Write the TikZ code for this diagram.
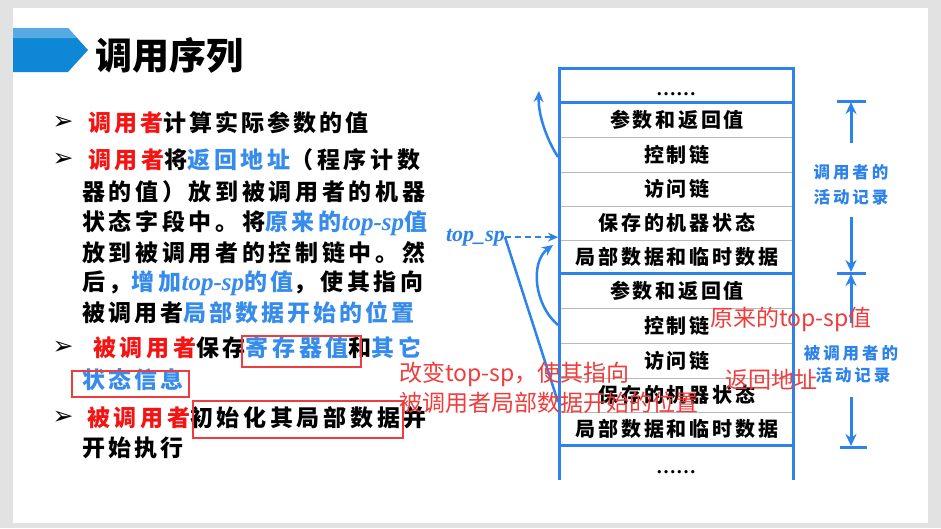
\documentclass[tikz,border=0pt]{standalone}
\usepackage{fontspec}
\usetikzlibrary{arrows.meta}
\newfontfamily\bodyfont{Noto Sans CJK SC}[LetterSpace=13]
\newfontfamily\bodywfont{Noto Sans CJK SC}[LetterSpace=16]
\newfontfamily\stkfont{Noto Sans CJK SC}[LetterSpace=14]
\newfontfamily\labfont{Noto Sans CJK SC}[LetterSpace=18]
\newfontfamily\annfont{Noto Sans CJK SC}
\newfontfamily\serfont{Liberation Serif}
\newfontfamily\symfont{DejaVu Sans}
\definecolor{tred}{RGB}{245,20,20}
\definecolor{tblue}{RGB}{55,140,235}
\definecolor{ared}{RGB}{240,60,60}
\definecolor{sblue}{RGB}{45,130,235}
\definecolor{rowgray}{RGB}{185,185,185}
\definecolor{bggray}{RGB}{226,226,226}
\definecolor{banlight}{RGB}{88,170,228}
\definecolor{bandark}{RGB}{14,136,214}
\newcommand\Rd[1]{\textcolor{tred}{#1}}
\newcommand\Bl[1]{\textcolor{tblue}{#1}}
\newcommand\topsp{{\serfont\bfseries\itshape\fontsize{25}{25}\selectfont top-sp}}
\tikzset{
  bt/.style={inner sep=0, anchor=base west, font=\bodyfont\bfseries\fontsize{23}{23}\selectfont},
  btw/.style={inner sep=0, anchor=base west, font=\bodywfont\bfseries\fontsize{23}{23}\selectfont},
  st/.style={inner sep=0, anchor=base, font=\stkfont\bfseries\fontsize{20}{20}\selectfont},
  dots/.style={inner sep=0, anchor=base, font=\serfont\bfseries\fontsize{20}{20}\selectfont},
  lab/.style={inner sep=0, anchor=base, text=sblue, font=\labfont\bfseries\fontsize{16.5}{16.5}\selectfont},
  ann/.style={inner sep=0, anchor=base west, text=ared, font=\annfont\fontsize{23}{23}\selectfont},
  bul/.style={inner sep=0, font=\symfont\bfseries\fontsize{25}{25}\selectfont},
  sline/.style={sblue, line width=3pt},
  rowline/.style={rowgray, line width=1pt},
  arr/.style={sblue, line width=2.5pt, -{Stealth[length=11pt,width=10pt]}},
  darr/.style={sblue, line width=2.5pt, dash pattern=on 6pt off 4pt, -{Stealth[length=10pt,width=9pt]}},
  meas/.style={sblue, line width=3pt, -{Stealth[length=12pt,width=11pt]}},
  rbox/.style={ared, line width=1.8pt}
}
\begin{document}
\begin{tikzpicture}[x=1pt,y=-1pt]
\useasboundingbox (0,0) rectangle (941,528);
\fill[bggray] (0,0) rectangle (941,528);
\fill[white] (13,8) rectangle (928,523);
% title banner
\fill[bandark] (13,28) -- (68,28) -- (88,50) -- (68,72) -- (13,72) -- cycle;
\fill[banlight] (13,28) -- (68,28) -- (77,38) -- (13,38) -- cycle;
\node[inner sep=0, anchor=base west, font=\annfont\bfseries\fontsize{37}{37}\selectfont] (title) at (95,69) {调用序列};

% bullets
\node[bul] (m1) at (63,123) {➢};
\node[bul] (m2) at (63,160) {➢};
\node[bul] (m3) at (63,348) {➢};
\node[bul] (m4) at (63,418) {➢};

\node[bt] (t1) at (88,131.7) {\Rd{调用者}计算实际参数的值};
\node[btw] (t2) at (88,168.7) {\Rd{调用者}将\Bl{返回地址}（程序计数};
\node[btw] (t3) at (82,200.7) {器的值）放到被调用者的机器};
\node[btw] (t4) at (82,230.7) {状态字段中。将\Bl{原来的\topsp 值}};
\node[btw] (t5) at (82,261.7) {放到被调用者的控制链中。然};
\node[btw] (t6) at (82,290.7) {后，\Bl{增加\topsp 的值}，使其指向};
\node[bt] (t7) at (82,321.7) {被调用者\Bl{局部数据开始的位置}};
\node[btw] (t8) at (93,356.7) {\Rd{被调用者}保存\Bl{寄存器值}和\Bl{其它}};
\node[bt] (t9) at (82,388.7) {\Bl{状态信息}};
\node[btw] (t10) at (87,426.7) {\Rd{被调用者}初始化其局部数据并};
\node[bt] (t11) at (82,456.7) {开始执行};

\draw[rbox] (242,336) rectangle (361,367);
\draw[rbox] (72,371) rectangle (189,397);
\draw[rbox] (193,401) rectangle (403,438);

% stack
\foreach \y in {137,172,206,240,308,343,378,412}
  \draw[rowline] (560.5,\y) -- (791.5,\y);
\draw[sline] (559,480) -- (559,68) -- (793,68) -- (793,480);
\draw[sline] (559,102) -- (793,102);
\draw[sline] (559,273) -- (793,273);
\draw[sline] (559,445) -- (793,445);

\node[dots] (r0) at (676,95) {……};
\node[st] (r1) at (677,127.1) {参数和返回值};
\node[st] (r2) at (677,162.1) {控制链};
\node[st] (r3) at (677,196.6) {访问链};
\node[st] (r4) at (677,230.6) {保存的机器状态};
\node[st] (r5) at (677,264.1) {局部数据和临时数据};
\node[st] (s1) at (677,298.1) {参数和返回值};
\node[st] (s2) at (677,333.1) {控制链};
\node[st] (s3) at (677,368.1) {访问链};
\node[st] (s4) at (677,402.6) {保存的机器状态};
\node[st] (s5) at (677,436.1) {局部数据和临时数据};
\node[dots] (s6) at (676,473) {……};

% left arrows
\coordinate (c1s) at (558,157);
\coordinate (c1e) at (539,91);
\draw[arr] (c1s) .. controls (547,140) and (538,115) .. (c1e);
\node[inner sep=0, anchor=base east, text=sblue, font=\serfont\bfseries\itshape\fontsize{22}{22}\selectfont] (tsp) at (505,241) {top\_sp};
\coordinate (pin) at (558,238);
\coordinate (dend) at (558,402);
\draw[darr] (tsp.east) -- (tsp.east -| pin);
\draw[sblue, line width=2.5pt] (tsp.east) -- (dend);
\coordinate (c2s) at (558,325);
\coordinate (c2e) at (553,245);
\draw[arr] (c2s) .. controls (534,305) and (530,262) .. (c2e);

% measure arrows
\draw[sline] (837,101) -- (866,101);
\draw[sline] (837,273) -- (866,273);
\draw[sline] (840,447) -- (867,447);
\node[lab] (cr1) at (851,178) {调用者的};
\node[lab] (cr2) at (851,203) {活动记录};
\node[lab] (ce1) at (851,359) {被调用者的};
\node[lab] (ce2) at (853,381) {活动记录};
\draw[meas] (851,143) -- (851,102);
\draw[meas] (851,217) -- (851,272);
\draw[meas] (851,323) -- (851,274);
\draw[meas] (851,397) -- (851,446);

% annotations
\node[ann] (a1) at (399,381.4) {改变top-sp，使其指向};
\node[ann] (a2) at (399,411.4) {被调用者局部数据开始的位置};
\node[ann] (a3) at (710,326.4) {原来的top-sp值};
\node[ann] (a4) at (725,388.4) {返回地址};
\end{tikzpicture}
\end{document}
